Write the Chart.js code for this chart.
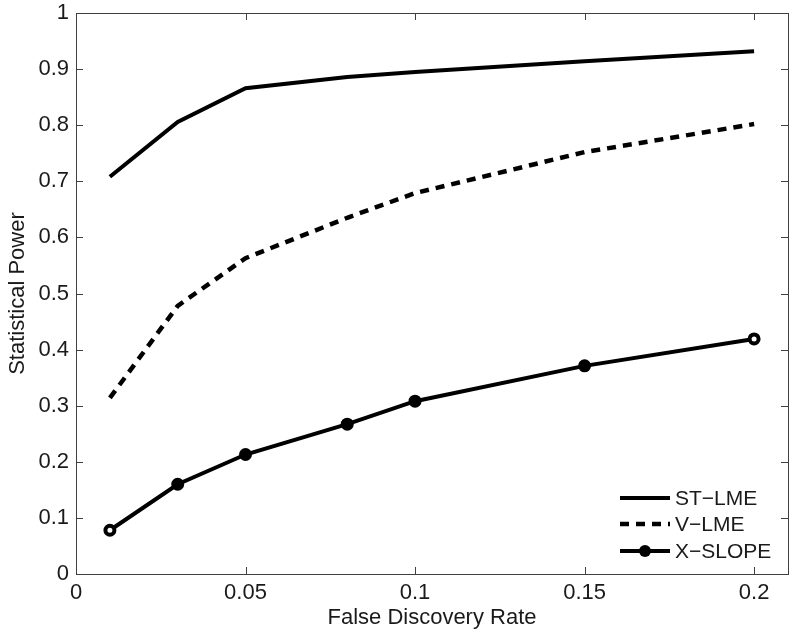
<!DOCTYPE html>
<html>
<head>
<meta charset="utf-8">
<script src="https://cdn.jsdelivr.net/npm/chart.js@4/dist/chart.umd.min.js"></script>
<style>
  html, body { margin: 0; padding: 0; background: #ffffff; }
  #wrap { width: 800px; height: 643px; }
</style>
</head>
<body>
<div id="wrap"><canvas id="c" width="800" height="643"></canvas></div>
<script>
// ---- data ----
const fdr = [0.01, 0.03, 0.05, 0.08, 0.1, 0.15, 0.2];
const stLme = [0.708, 0.806, 0.866, 0.886, 0.895, 0.914, 0.932];
const vLme = [0.314, 0.478, 0.563, 0.635, 0.679, 0.752, 0.802];
const xSlope = [0.078, 0.160, 0.213, 0.267, 0.308, 0.371, 0.419];
const seriesNames = ['ST\u2212LME', 'V\u2212LME', 'X\u2212SLOPE'];
const xTicks = [0, 0.05, 0.1, 0.15, 0.2];
const yTicks = [0, 0.1, 0.2, 0.3, 0.4, 0.5, 0.6, 0.7, 0.8, 0.9, 1];
const xTitle = 'False Discovery Rate';
const yTitle = 'Statistical Power';

const FONT = "'Liberation Sans', Arial, Helvetica, sans-serif";
const TXT = '#1a1a1a';
const AXC = '#404040';

const pts = arr => arr.map((v, i) => ({ x: fdr[i], y: v }));
const fmt = v => String(Math.round(v * 100) / 100);

// Frame + inward ticks (MATLAB box style)
const framePlugin = {
  id: 'frame',
  afterDatasetsDraw(chart) {
    const { ctx, chartArea: a, scales } = chart;
    ctx.save();
    ctx.strokeStyle = AXC;
    ctx.lineWidth = 1;
    ctx.strokeRect(Math.round(a.left) + 0.5, Math.round(a.top) + 0.5,
                   Math.round(a.right - a.left), Math.round(a.bottom - a.top));
    const tl = 7;
    ctx.beginPath();
    scales.x.ticks.forEach(t => {
      const px = Math.round(scales.x.getPixelForValue(t.value)) + 0.5;
      ctx.moveTo(px, a.bottom); ctx.lineTo(px, a.bottom - tl);
      ctx.moveTo(px, a.top); ctx.lineTo(px, a.top + tl);
    });
    scales.y.ticks.forEach(t => {
      const py = Math.round(scales.y.getPixelForValue(t.value)) + 0.5;
      ctx.moveTo(a.left, py); ctx.lineTo(a.left + tl, py);
      ctx.moveTo(a.right, py); ctx.lineTo(a.right - tl, py);
    });
    ctx.stroke();
    ctx.restore();
  }
};

// Legend inside the plot, bottom-right, no box
const legendPlugin = {
  id: 'inLegend',
  afterDraw(chart) {
    const { ctx, chartArea: a } = chart;
    const x0 = a.right - 168, x1 = a.right - 118, tx = a.right - 113;
    const rows = [a.bottom - 76, a.bottom - 50, a.bottom - 23];
    ctx.save();
    chart.data.datasets.forEach((ds, i) => {
      const y = rows[i];
      ctx.strokeStyle = ds.borderColor;
      ctx.lineWidth = ds.borderWidth;
      ctx.setLineDash(ds.borderDash || []);
      ctx.beginPath();
      ctx.moveTo(x0, y); ctx.lineTo(x1, y);
      ctx.stroke();
      ctx.setLineDash([]);
      if (ds.pointRadius > 0) {
        ctx.beginPath();
        ctx.arc((x0 + x1) / 2, y, 6, 0, Math.PI * 2);
        ctx.fillStyle = '#000';
        ctx.fill();
      }
      ctx.fillStyle = TXT;
      ctx.font = '21px ' + FONT;
      ctx.textAlign = 'left';
      ctx.textBaseline = 'middle';
      ctx.fillText(ds.label, tx, y + 1);
    });
    ctx.restore();
  }
};

new Chart(document.getElementById('c'), {
  type: 'line',
  data: {
    datasets: [
      { label: seriesNames[0], data: pts(stLme), borderColor: '#000', borderWidth: 4,
        pointRadius: 0, fill: false, tension: 0 },
      { label: seriesNames[1], data: pts(vLme), borderColor: '#000', borderWidth: 4.5,
        borderDash: [9, 7], pointRadius: 0, fill: false, tension: 0 },
      { label: seriesNames[2], data: pts(xSlope), borderColor: '#000', borderWidth: 4,
        pointRadius: 4.5, pointBorderWidth: 4, pointBorderColor: '#000',
        pointBackgroundColor: ctx => (ctx.dataIndex === 0 || ctx.dataIndex === fdr.length - 1) ? '#fff' : '#000',
        fill: false, tension: 0 }
    ]
  },
  options: {
    responsive: false,
    animation: false,
    events: [],
    layout: { padding: { left: 0, right: 12, top: 13, bottom: 0 } },
    plugins: { legend: { display: false }, tooltip: { enabled: false } },
    scales: {
      x: {
        type: 'linear', min: 0, max: 0.21,
        afterBuildTicks: s => { s.ticks = xTicks.map(v => ({ value: v })); },
        afterFit: s => { s.height = 69; s.paddingLeft = 0; s.paddingRight = 0; },
        grid: { display: false, drawTicks: false },
        border: { display: false },
        ticks: { padding: 6, color: TXT, font: { family: FONT, size: 22 }, callback: v => fmt(v), maxRotation: 0 },
        title: { display: true, text: xTitle, color: TXT, font: { family: FONT, size: 22 }, padding: { top: 0, bottom: 12 } }
      },
      y: {
        type: 'linear', min: 0, max: 1,
        afterBuildTicks: s => { s.ticks = yTicks.map(v => ({ value: v })); },
        afterFit: s => { s.width = 76; s.paddingTop = 0; s.paddingBottom = 0; },
        grid: { display: false, drawTicks: false },
        border: { display: false },
        ticks: { padding: 7, color: TXT, font: { family: FONT, size: 22 }, callback: v => fmt(v) },
        title: { display: true, text: yTitle, color: TXT, font: { family: FONT, size: 22 }, padding: { top: 5, bottom: 0 } }
      }
    }
  },
  plugins: [framePlugin, legendPlugin]
});
</script>
</body>
</html>
